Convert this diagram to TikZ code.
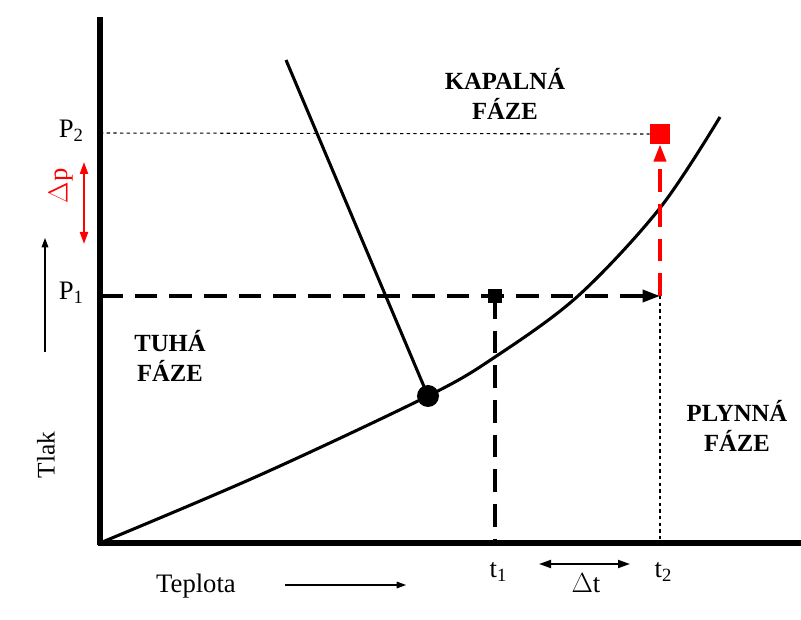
\documentclass[tikz,border=0pt]{standalone}
\usepackage{fontspec}
\setmainfont{Liberation Serif}
\usetikzlibrary{arrows.meta}
\definecolor{myred}{RGB}{255,0,0}
\tikzset{
  axis/.style={line width=3.8pt},
  curve/.style={line width=2.3pt},
  bigdash/.style={line width=2.6pt, dash pattern=on 17pt off 9pt},
  thindash/.style={line width=0.8pt, dash pattern=on 2.5pt off 2.5pt},
  lbl/.style={font=\fontsize{20}{22}\selectfont, inner sep=0pt},
  phase/.style={font=\fontsize{18.5}{22}\selectfont\bfseries, align=center, inner sep=0pt},
}
\newcommand{\mysub}[1]{\raisebox{-0.3ex}{\fontsize{14}{14}\selectfont #1}}
\begin{document}
\begin{tikzpicture}[x=0.75pt,y=-0.75pt]
\useasboundingbox (0,0) rectangle (801,620);
% axes
\coordinate (O) at (100,543);
\coordinate (ytop) at (100,17);
\coordinate (xend) at (801,543);
\draw[axis] (ytop) -- (100,545) ;
\draw[axis] (98,543) -- (xend);
% vaporization curve
\draw[curve] plot[smooth, tension=0.55] coordinates {(100,543) (260,475) (428,396) (495,357) (578,296) (660,208) (720,117)};
% triple point & melting line
\coordinate (mtop) at (286,60);
\node[circle, fill=black, minimum size=16.5pt, inner sep=0pt] (tp) at (428,396) {};
\draw[curve] (mtop) -- (tp.center);
% points
\coordinate (p1) at (100,296);
\coordinate (p2) at (100,133);
\coordinate (a1) at (495,296);
\coordinate (a2) at (660,296);
\coordinate (b1) at (495,543);
\coordinate (b2) at (660,543);
\node[fill=black, minimum size=10pt, inner sep=0pt] (sq) at (a1) {};
\node[fill=myred, minimum size=15pt, inner sep=0pt] (rsq) at (660,134) {};
% dashed lines
\draw[bigdash, -{Triangle[length=13pt,width=9pt]}] (p1) -- (a2);
\draw[bigdash] (sq.center) -- (b1);
\draw[thindash] (a2) -- (b2);
\draw[thindash] (p2) -- (rsq.west);
\draw[bigdash, myred, -{Triangle[length=13pt,width=9pt]}, line width=2.8pt] (a2) -- (rsq.south);
% axis labels
\node[lbl] (P2) at (71,131) {P\mysub{2}};
\node[lbl] (P1) at (71,293) {P\mysub{1}};
\node[lbl, text=myred, rotate=90] (dp) at (61,186) {$\Delta$p};
\coordinate (dpa) at (84,162);
\coordinate (dpb) at (84,244);
\draw[myred, line width=1.6pt, {Triangle[length=9pt,width=6pt]}-{Triangle[length=9pt,width=6pt]}] (dpa) -- (dpb);
\node[lbl, font=\fontsize{19}{20}\selectfont, rotate=90] (tlak) at (46,455) {Tlak};
\coordinate (ta) at (45,352);
\coordinate (tb) at (45,238);
\draw[line width=0.8pt, -{Triangle[length=7pt,width=5pt]}] (ta) -- (tb);
\node[lbl] (tep) at (196,586) {Teplota};
\coordinate (xa) at (285,585);
\coordinate (xb) at (406,585);
\draw[line width=0.8pt, -{Triangle[length=7pt,width=5pt]}] (xa) -- (xb);
\node[lbl] (t1) at (498,572) {t\mysub{1}};
\node[lbl] (t2) at (663,572) {t\mysub{2}};
\node[lbl] (dt) at (586,583) {$\Delta$t};
\coordinate (dta) at (539,564);
\coordinate (dtb) at (630,564);
\draw[line width=1.4pt, {Triangle[length=9pt,width=6pt]}-{Triangle[length=9pt,width=6pt]}] (dta) -- (dtb);
% phases
\node[phase] (liq) at (505,94) {KAPALNÁ\\FÁZE};
\node[phase] (sol) at (170,356) {TUHÁ\\FÁZE};
\node[phase] (gas) at (737,426) {PLYNNÁ\\FÁZE};
\end{tikzpicture}
\end{document}
